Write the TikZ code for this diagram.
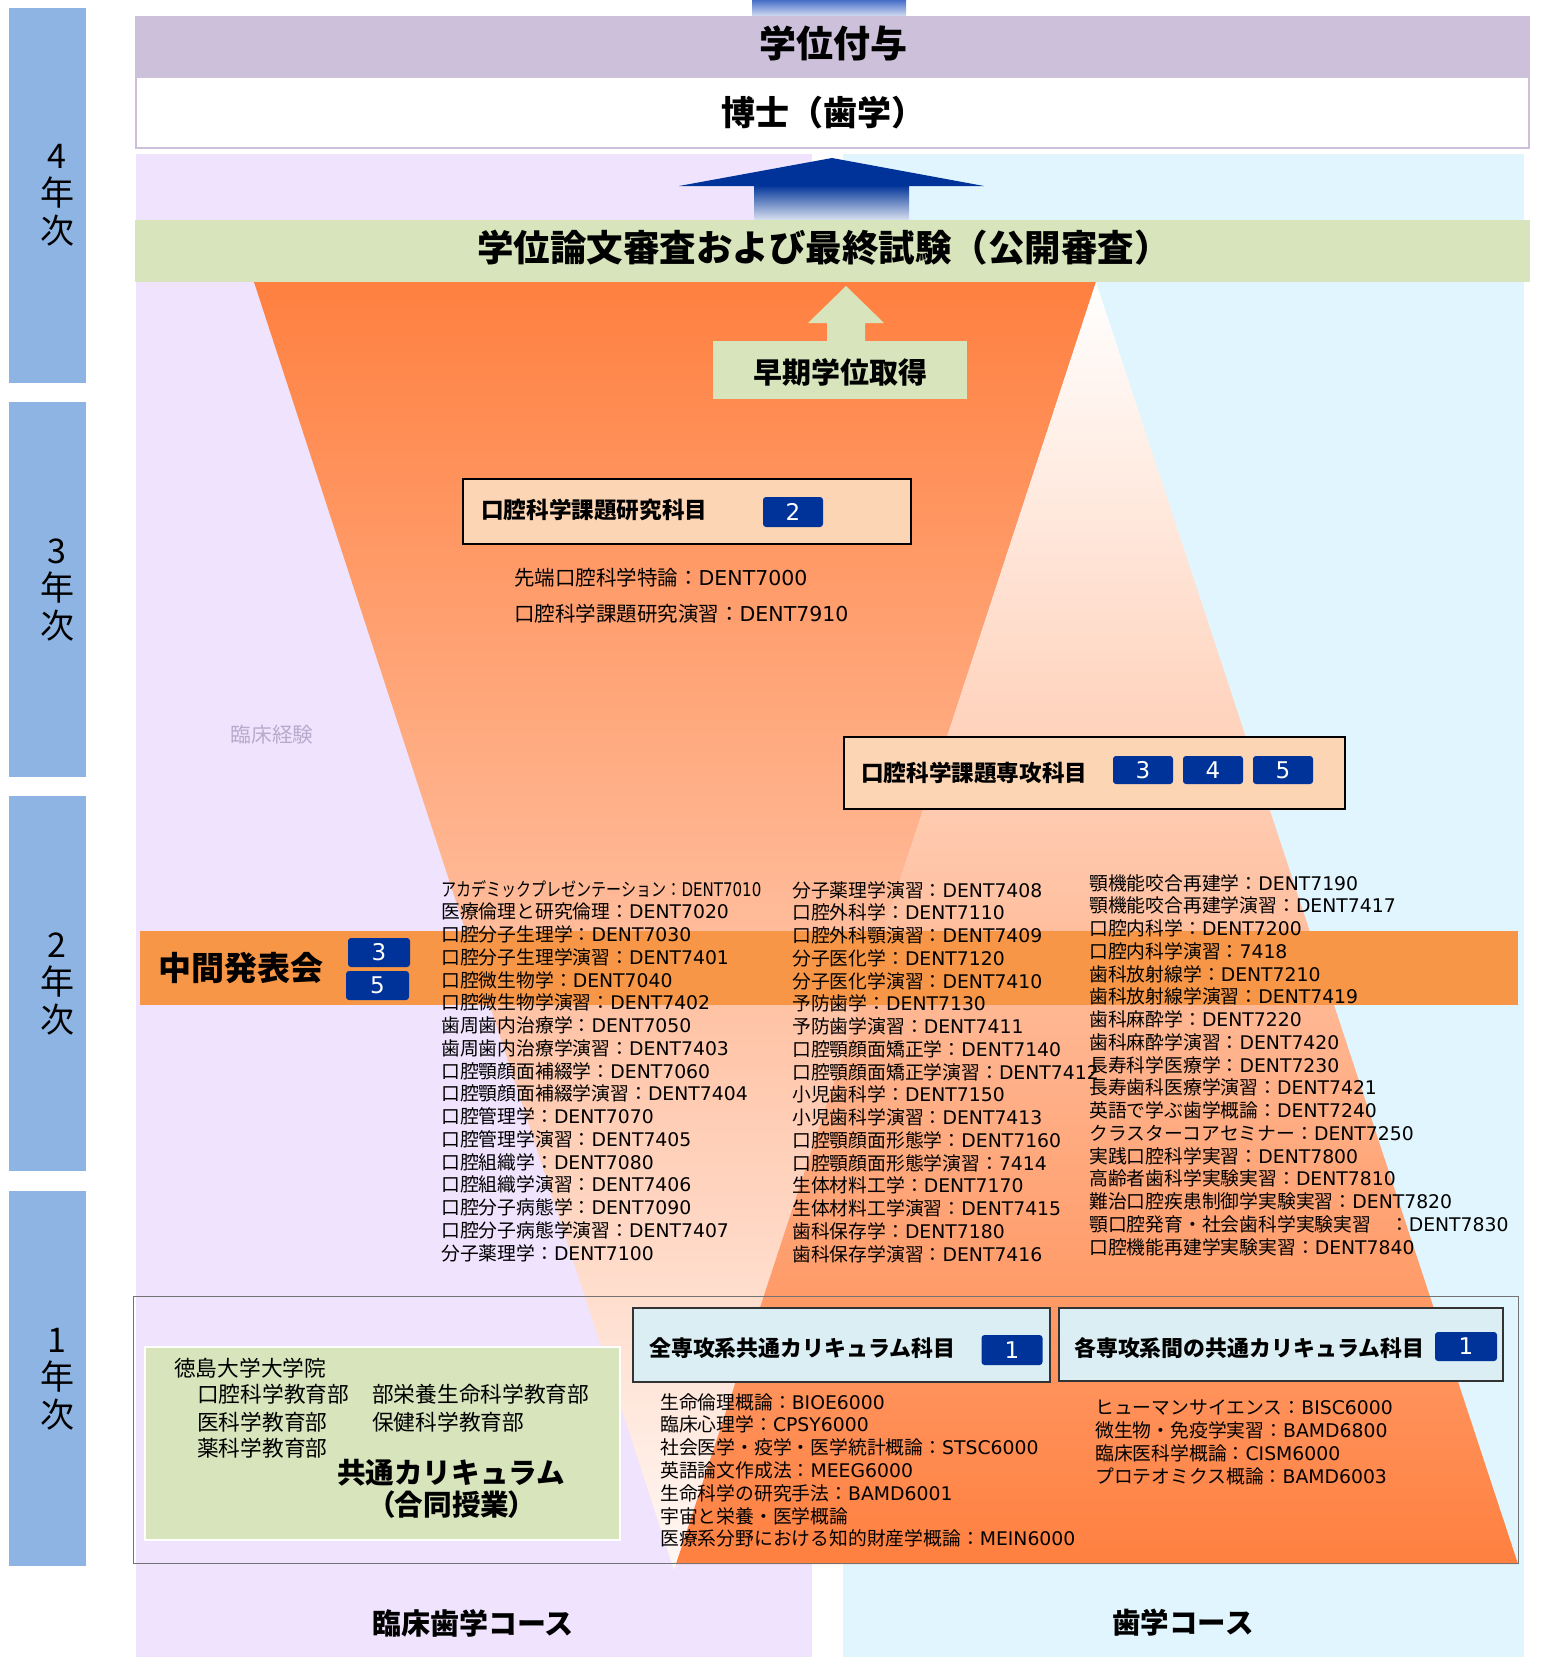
\documentclass[tikz,border=0pt]{standalone}
\usepackage{fontspec}
\usepackage{graphicx}
\newfontfamily\jp{Noto Sans CJK JP}
\newfontfamily\jpp[RawFeature=+palt]{Noto Sans CJK JP}
\newfontfamily\lat{DejaVu Sans}
\definecolor{lavc}{RGB}{240,227,254}
\definecolor{cync}{RGB}{225,245,254}
\definecolor{purpc}{RGB}{204,192,218}
\definecolor{grnc}{RGB}{216,228,188}
\definecolor{orgc}{RGB}{255,128,64}
\definecolor{midc}{RGB}{255,198,176}
\definecolor{midupc}{RGB}{255,218,204}
\definecolor{palec}{RGB}{255,247,244}
\definecolor{bandc}{RGB}{247,150,70}
\definecolor{peachc}{RGB}{252,213,180}
\definecolor{badgec}{RGB}{0,51,153}
\definecolor{lbluec}{RGB}{218,238,243}
\definecolor{sidec}{RGB}{141,180,226}
\definecolor{topbluec}{RGB}{70,110,200}
\definecolor{expc}{RGB}{185,170,205}
\begin{document}
\begin{tikzpicture}[x=1pt,y=-1pt,
  lst/.style={anchor=base west,inner sep=0pt,font=\jp\fontsize{18.8}{22}\selectfont},
  hd/.style={inner sep=0pt,font=\jp\bfseries\fontsize{#1}{#1}\selectfont},
  hd/.default=22,
  badgest/.style={fill=badgec,rounded corners=3pt,text=white,inner sep=0pt,
    minimum width=61pt,minimum height=29pt,font=\lat\fontsize{23}{23}\selectfont},
  yr/.style={align=center,inner sep=0pt,font=\jp\fontsize{34}{37.5}\selectfont},
  peachbox/.style={fill=peachc,draw=black,line width=1.5pt},
  bluebox/.style={fill=lbluec,draw=black!80,line width=1.5pt},
  plain/.style={inner sep=0pt,font=\jp\fontsize{21.7}{27}\selectfont}]
\useasboundingbox (0,0) rectangle (1543,1657);

% year sidebar
\fill[sidec] (9,8) rectangle (86,383);
\fill[sidec] (9,402) rectangle (86,777);
\fill[sidec] (9,796) rectangle (86,1171);
\fill[sidec] (9,1191) rectangle (86,1566);
\node[yr] (y4) at (57,195) {4\\年\\次};
\node[yr] (y3) at (57,590) {3\\年\\次};
\node[yr] (y2) at (57,984) {2\\年\\次};
\node[yr] (y1) at (57,1379) {1\\年\\次};

% backgrounds
\fill[lavc] (136,154) rectangle (812,1657);
\fill[cync] (843,154) rectangle (1524,1657);

% top
\shade[top color=topbluec,bottom color=topbluec!15] (752,0) rectangle (906,18);
\fill[purpc] (135,16) rectangle (1530,77);
\draw[fill=white,draw=purpc,line width=2.5pt] (136,77) rectangle (1529,148);
\node[hd=37] (gakui) at (833,43) {学位付与};
\node[hd=34] (hakase) at (823,113) {博士（歯学）};

% big blue arrow
\fill[badgec] (832,158) -- (984,186) -- (679,186) -- cycle;
\shade[top color=badgec,bottom color=white] (754,185) rectangle (909,226);

% thesis band
\fill[grnc] (135,220) rectangle (1530,282);
\node[hd=36.5] (thesis) at (824,248) {学位論文審査および最終試験（公開審査）};

% funnels
\shade[top color=orgc,middle color=midc,bottom color=palec] (254,282) -- (1096,282) -- (674,1570) -- cycle;
\shade[top color=white,middle color=midupc,bottom color=orgc] (1096,282) -- (1518,1564) -- (676,1564) -- cycle;

% early degree
\fill[grnc] (846,286) -- (884,323) -- (865,323) -- (865,342) -- (827,342) -- (827,323) -- (808,323) -- cycle;
\fill[grnc] (713,341) rectangle (967,399);
\node[hd=29] (early) at (840,372) {早期学位取得};

% research subjects
\draw[peachbox] (463,479) rectangle (911,544);
\node[hd=22.6,anchor=west] (res) at (481,510) {口腔科学課題研究科目};
\node[badgest,minimum width=60pt,minimum height=30pt] (b2) at (793,512) {2};
\node[lst,font=\jp\fontsize{20.5}{22}\selectfont] (r1) at (514,585) {先端口腔科学特論：\lat DENT7000};
\node[lst,font=\jp\fontsize{20.5}{22}\selectfont] (r2) at (514,621) {口腔科学課題研究演習：\lat DENT7910};

\node[inner sep=0pt,text=expc,font=\jp\fontsize{20.7}{22}\selectfont] (exp) at (272,735) {臨床経験};

% specialty subjects
\draw[peachbox] (844,737) rectangle (1345,809);
\node[hd=22.6,anchor=west] (spec) at (861,773) {口腔科学課題専攻科目};
\node[badgest,minimum width=60pt,minimum height=28pt] (b3a) at (1143,770) {3};
\node[badgest,minimum width=60pt,minimum height=28pt] (b4a) at (1213,770) {4};
\node[badgest,minimum width=60pt,minimum height=28pt] (b5a) at (1283,770) {5};

% interim band
\fill[bandc] (140,931) rectangle (1518,1005);
\node[hd=33,anchor=west] (interim) at (158,968) {中間発表会};
\node[badgest,minimum width=62pt] (b3b) at (379,952.5) {3};
\node[badgest,minimum width=63pt] (b5b) at (377.5,985.5) {5};

% course columns
\node[lst] (ca0) at (441,896) {\scalebox{0.8}[1]{\jp アカデミックプレゼンテーション：\lat DENT7010}};
\foreach \a/\b [count=\i] in {医療倫理と研究倫理：/DENT7020, 口腔分子生理学：/DENT7030, 口腔分子生理学演習：/DENT7401, 口腔微生物学：/DENT7040, 口腔微生物学演習：/DENT7402, 歯周歯内治療学：/DENT7050, 歯周歯内治療学演習：/DENT7403, 口腔顎顔面補綴学：/DENT7060, 口腔顎顔面補綴学演習：/DENT7404, 口腔管理学：/DENT7070, 口腔管理学演習：/DENT7405, 口腔組織学：/DENT7080, 口腔組織学演習：/DENT7406, 口腔分子病態学：/DENT7090, 口腔分子病態学演習：/DENT7407, 分子薬理学：/DENT7100}
  \node[lst] (ca\i) at (441,{896+22.75*\i}) {\jp\a\lat\b};
\foreach \a/\b [count=\i from 0] in {分子薬理学演習：/DENT7408, 口腔外科学：/DENT7110, 口腔外科顎演習：/DENT7409, 分子医化学：/DENT7120, 分子医化学演習：/DENT7410, 予防歯学：/DENT7130, 予防歯学演習：/DENT7411, 口腔顎顔面矯正学：/DENT7140, 口腔顎顔面矯正学演習：/DENT7412, 小児歯科学：/DENT7150, 小児歯科学演習：/DENT7413, 口腔顎顔面形態学：/DENT7160, 口腔顎顔面形態学演習：/7414, 生体材料工学：/DENT7170, 生体材料工学演習：/DENT7415, 歯科保存学：/DENT7180, 歯科保存学演習：/DENT7416}
  \node[lst] (cb\i) at (792,{897+22.75*\i}) {\jp\a\lat\b};
\foreach \a/\b [count=\i from 0] in {顎機能咬合再建学：/DENT7190, 顎機能咬合再建学演習：/DENT7417, 口腔内科学：/DENT7200, 口腔内科学演習：/7418, 歯科放射線学：/DENT7210, 歯科放射線学演習：/DENT7419, 歯科麻酔学：/DENT7220, 歯科麻酔学演習：/DENT7420, 長寿科学医療学：/DENT7230, 長寿歯科医療学演習：/DENT7421, 英語で学ぶ歯学概論：/DENT7240, クラスターコアセミナー：/DENT7250, 実践口腔科学実習：/DENT7800, 高齢者歯科学実験実習：/DENT7810, 難治口腔疾患制御学実験実習：/DENT7820, 顎口腔発育・社会歯科学実験実習　：/DENT7830, 口腔機能再建学実験実習：/DENT7840}
  \node[lst] (cc\i) at (1089,{890+22.75*\i}) {\jp\a\lat\b};

% first year
\draw[draw=black!55,line width=1pt] (133,1296) rectangle (1518,1563);
\draw[fill=grnc,draw=white,line width=1.2pt] (145,1347) rectangle (620,1540);
\node[plain,anchor=west] (tk) at (174,1368) {徳島大学大学院};
\node[plain,anchor=west] (tk1) at (197,1394) {口腔科学教育部};
\node[plain,anchor=west] (tk2) at (372,1394) {部栄養生命科学教育部};
\node[plain,anchor=west] (tk3) at (197,1422) {医科学教育部};
\node[plain,anchor=west] (tk4) at (372,1422) {保健科学教育部};
\node[plain,anchor=west] (tk5) at (197,1448) {薬科学教育部};
\node[hd=28.6] (kyotsu) at (451,1473) {共通カリキュラム};
\node[inner sep=0pt,font=\jpp\bfseries\fontsize{28.6}{28.6}\selectfont] (godo) at (452,1505) {（合同授業）};

\draw[bluebox] (633,1308) rectangle (1050,1382);
\node[hd=21.9,anchor=west] (all) at (649,1348) {全専攻系共通カリキュラム科目};
\node[badgest,minimum width=61pt,minimum height=30pt] (b1a) at (1012,1350) {1};
\draw[bluebox] (1059,1308) rectangle (1503,1381);
\node[hd=21.9,anchor=west] (each) at (1074,1348) {各専攻系間の共通カリキュラム科目};
\node[badgest,minimum width=62pt,minimum height=29pt] (b1b) at (1466,1346.5) {1};

\foreach \a/\b [count=\i from 0] in {生命倫理概論：/BIOE6000, 臨床心理学：/CPSY6000, 社会医学・疫学・医学統計概論：/STSC6000, 英語論文作成法：/MEEG6000, 生命科学の研究手法：/BAMD6001, 宇宙と栄養・医学概論/{}, 医療系分野における知的財産学概論：/MEIN6000}
  \node[lst] (cd\i) at (660,{1409+22.8*\i}) {\jp\a\lat\b};
\foreach \a/\b [count=\i from 0] in {ヒューマンサイエンス：/BISC6000, 微生物・免疫学実習：/BAMD6800, 臨床医科学概論：/CISM6000, プロテオミクス概論：/BAMD6003}
  \node[lst] (ce\i) at (1095,{1414+23*\i}) {\jp\a\lat\b};

% course labels
\node[hd=29] (clin) at (473,1623) {臨床歯学コース};
\node[hd=28.5] (dent) at (1183,1623) {歯学コース};
\end{tikzpicture}
\end{document}
